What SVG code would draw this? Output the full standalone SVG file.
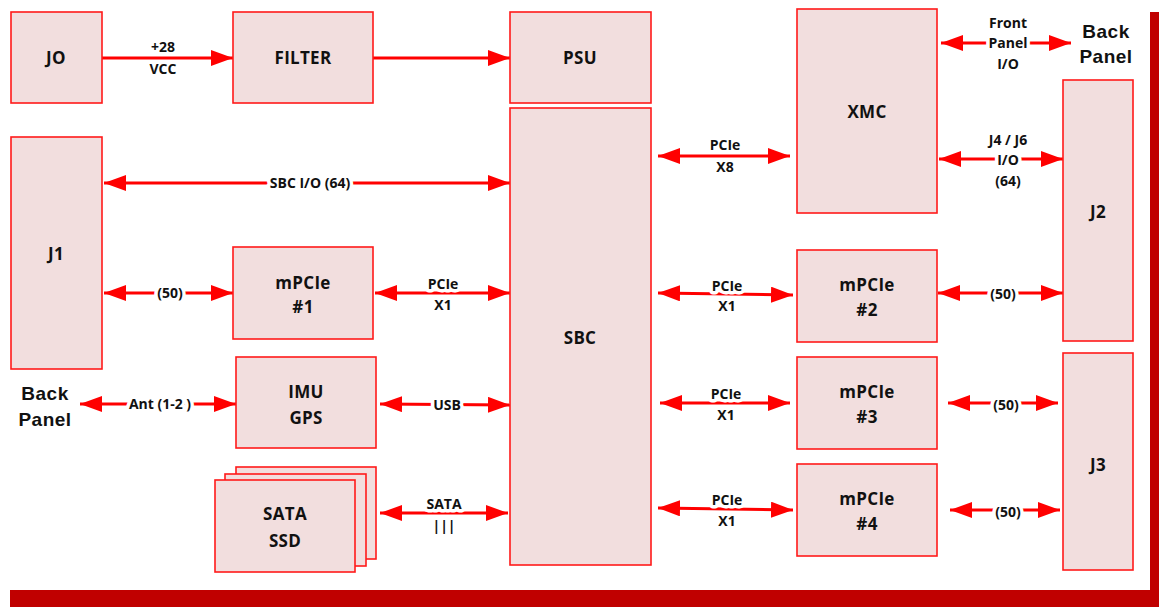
<svg xmlns="http://www.w3.org/2000/svg" width="1159" height="607" viewBox="0 0 1159 607">
<style>
.n rect{fill:#F2DEDE;stroke:#FF1A1A;stroke-width:1.6}
.t{font-family:"Open Sans","Liberation Sans",sans-serif;font-weight:bold;font-size:17px;fill:#111;text-anchor:middle;letter-spacing:0.3px}
.c line{stroke:#FF0000;stroke-width:3}
.l{font-family:"Open Sans","Liberation Sans",sans-serif;font-weight:bold;font-size:14px;fill:#111;text-anchor:middle;paint-order:stroke;stroke:#fff;stroke-width:7px;stroke-linejoin:round}
.bp{font-family:"Liberation Sans",Arial,sans-serif;font-weight:bold;font-size:19px;fill:#111;text-anchor:middle;letter-spacing:0.5px}
</style>
<defs>
<marker id="ah" markerUnits="userSpaceOnUse" markerWidth="24" markerHeight="18" refX="22" refY="8" orient="auto-start-reverse">
<path d="M0,0 L22,8 L0,16 Z" fill="#FF0000"/>
</marker>
</defs>
<rect x="0" y="0" width="1159" height="607" fill="#fff"/>
<rect x="1150" y="12" width="9" height="595" fill="#C00000"/>
<rect x="10" y="590" width="1149" height="17" fill="#C00000"/>

<g class="c" id="connectors">
<line x1="102" y1="58" x2="233" y2="58" marker-end="url(#ah)"/>
<line x1="373" y1="58" x2="510" y2="58" marker-end="url(#ah)"/>
<line x1="104" y1="183" x2="510" y2="183" marker-start="url(#ah)" marker-end="url(#ah)"/>
<line x1="104" y1="293" x2="233" y2="293" marker-start="url(#ah)" marker-end="url(#ah)"/>
<line x1="375" y1="293" x2="510" y2="293" marker-start="url(#ah)" marker-end="url(#ah)"/>
<line x1="80" y1="404" x2="236" y2="404" marker-start="url(#ah)" marker-end="url(#ah)"/>
<line x1="380" y1="404" x2="510" y2="405" marker-start="url(#ah)" marker-end="url(#ah)"/>
<line x1="380" y1="513" x2="508" y2="513" marker-start="url(#ah)" marker-end="url(#ah)"/>
<line x1="658" y1="156" x2="790" y2="156" marker-start="url(#ah)" marker-end="url(#ah)"/>
<line x1="941" y1="43" x2="1071" y2="43" marker-start="url(#ah)" marker-end="url(#ah)"/>
<line x1="939" y1="159" x2="1063" y2="159" marker-start="url(#ah)" marker-end="url(#ah)"/>
<line x1="658" y1="293" x2="793" y2="295" marker-start="url(#ah)" marker-end="url(#ah)"/>
<line x1="938" y1="293" x2="1063" y2="293" marker-start="url(#ah)" marker-end="url(#ah)"/>
<line x1="660" y1="403" x2="790" y2="403" marker-start="url(#ah)" marker-end="url(#ah)"/>
<line x1="948" y1="403" x2="1058" y2="403" marker-start="url(#ah)" marker-end="url(#ah)"/>
<line x1="658" y1="508" x2="793" y2="510" marker-start="url(#ah)" marker-end="url(#ah)"/>
<line x1="950" y1="510" x2="1060" y2="510" marker-start="url(#ah)" marker-end="url(#ah)"/>
</g>

<g id="labels">
<text class="l" x="163" y="52">+28</text>
<text class="l" x="163" y="74">VCC</text>
<text class="l" x="310" y="188">SBC I/O (64)</text>
<text class="l" x="170" y="298">(50)</text>
<text class="l" x="443" y="289">PCIe</text>
<text class="l" x="443" y="310">X1</text>
<text class="l" x="160" y="409">Ant (1-2 )</text>
<text class="l" x="447" y="410">USB</text>
<text class="l" x="444" y="509">SATA</text>
<text class="l" x="444" y="531">|||</text>
<text class="l" x="725" y="150">PCIe</text>
<text class="l" x="725" y="172">X8</text>
<text class="l" x="1008" y="28">Front</text>
<text class="l" x="1008" y="48">Panel</text>
<text class="l" x="1008" y="69">I/O</text>
<text class="l" x="1008" y="145">J4 / J6</text>
<text class="l" x="1008" y="165">I/O</text>
<text class="l" x="1008" y="186">(64)</text>
<text class="l" x="727" y="291">PCIe</text>
<text class="l" x="727" y="311">X1</text>
<text class="l" x="1003" y="299">(50)</text>
<text class="l" x="726" y="399">PCIe</text>
<text class="l" x="726" y="420">X1</text>
<text class="l" x="1006" y="410">(50)</text>
<text class="l" x="727" y="505">PCIe</text>
<text class="l" x="727" y="526">X1</text>
<text class="l" x="1008" y="517">(50)</text>
<text class="bp" x="45" y="400">Back</text>
<text class="bp" x="45" y="426">Panel</text>
<text class="bp" x="1106" y="38">Back</text>
<text class="bp" x="1106" y="63">Panel</text>
</g>

<g class="n" id="jo"><rect x="11" y="12" width="91" height="91"/><text class="t" x="56" y="64">JO</text></g>
<g class="n" id="filter"><rect x="233" y="12" width="140" height="91"/><text class="t" x="303" y="64">FILTER</text></g>
<g class="n" id="psu"><rect x="510" y="12" width="141" height="91"/><text class="t" x="580" y="64">PSU</text></g>
<g class="n" id="xmc"><rect x="797" y="9" width="140" height="204"/><text class="t" x="867" y="118">XMC</text></g>
<g class="n" id="j1"><rect x="11" y="137" width="91" height="232"/><text class="t" x="56" y="260">J1</text></g>
<g class="n" id="sbc"><rect x="510" y="108" width="141" height="457"/><text class="t" x="580" y="344">SBC</text></g>
<g class="n" id="mpcie1"><rect x="233" y="247" width="140" height="92"/><text class="t" x="303" y="289">mPCIe</text><text class="t" x="303" y="313">#1</text></g>
<g class="n" id="imu"><rect x="236" y="357" width="140" height="91"/><text class="t" x="306" y="398">IMU</text><text class="t" x="306" y="424">GPS</text></g>
<g class="n" id="ssd"><rect x="236" y="467" width="140" height="92"/><rect x="225" y="474" width="141" height="92"/><rect x="215" y="480" width="140" height="92"/><text class="t" x="285" y="520">SATA</text><text class="t" x="285" y="547">SSD</text></g>
<g class="n" id="j2"><rect x="1063" y="80" width="70" height="261"/><text class="t" x="1098" y="218">J2</text></g>
<g class="n" id="j3"><rect x="1063" y="353" width="70" height="217"/><text class="t" x="1098" y="471">J3</text></g>
<g class="n" id="mpcie2"><rect x="797" y="250" width="140" height="92"/><text class="t" x="867" y="291">mPCIe</text><text class="t" x="867" y="316">#2</text></g>
<g class="n" id="mpcie3"><rect x="797" y="357" width="140" height="92"/><text class="t" x="867" y="398">mPCIe</text><text class="t" x="867" y="423">#3</text></g>
<g class="n" id="mpcie4"><rect x="797" y="464" width="140" height="92"/><text class="t" x="867" y="505">mPCIe</text><text class="t" x="867" y="530">#4</text></g>
</svg>
